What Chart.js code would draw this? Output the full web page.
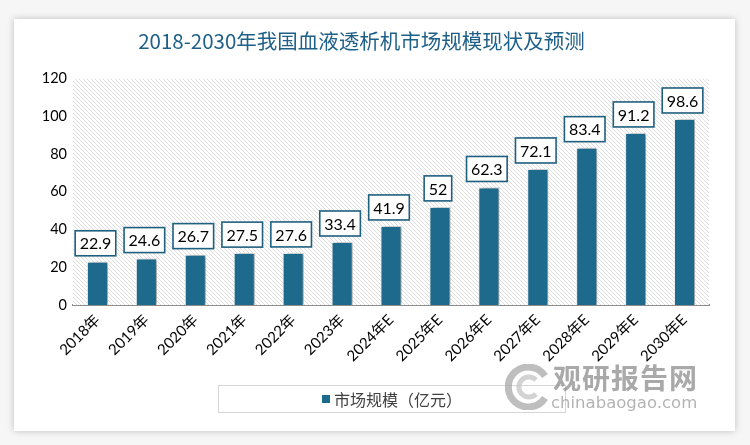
<!DOCTYPE html>
<html lang="zh-CN">

<head>
    <meta charset="UTF-8">
    <title>血液透析机市场规模</title>
    <style>
        body {
            margin: 0;
            width: 750px;
            height: 445px;
            background: #f6f6f6;
            position: relative;
            overflow: hidden;
            font-family: "Noto Sans CJK SC", sans-serif;
        }

        .card {
            position: absolute;
            left: 14px;
            top: 19px;
            width: 721px;
            height: 412px;
            background: #ffffff;
            box-shadow: 0 0 7px rgba(0, 0, 0, 0.22);
        }

        #grafico {
            position: absolute;
            left: 0;
            top: 0;
        }

        .legenda {
            position: absolute;
            left: 218px;
            top: 385px;
            width: 346px;
            height: 26px;
            border: 1px solid #d6d6d6;
            display: flex;
            align-items: center;
            justify-content: center;
            font-size: 16px;
            color: #404040;
        }

        .legenda .cor {
            width: 8px;
            height: 8px;
            background: #1d6a8c;
            margin-right: 4px;
        }

        .marca {
            position: absolute;
            left: 505px;
            top: 360px;
            width: 210px;
            height: 60px;
            opacity: 0.75;
        }

        .marca .logo {
            position: absolute;
            left: 0;
            top: 4px;
        }

        .marca .nome {
            position: absolute;
            left: 48px;
            top: 0;
            font-size: 28px;
            font-weight: bold;
            letter-spacing: 1px;
            color: #8c8c8c;
            line-height: 34px;
        }

        .marca .site {
            position: absolute;
            left: 46px;
            top: 33px;
            font-family: "DejaVu Sans", sans-serif;
            font-size: 16.5px;
            color: #9a9a9a;
            line-height: 20px;
        }
    </style>
</head>

<body>
    <div class="card"></div>
    <canvas id="grafico" width="750" height="445"></canvas>

    <div class="legenda"><span class="cor"></span>市场规模（亿元）</div>

    <div class="marca">
        <svg class="logo" width="46" height="46" viewBox="0 0 46 46">
            <path d="M40 12 A20 20 0 1 0 40 34" fill="none" stroke="#a8a8a8" stroke-width="7" />
            <path d="M31 16 A10 10 0 1 0 31 30" fill="none" stroke="#c4c4c4" stroke-width="5" />
        </svg>
        <div class="nome">观研报告网</div>
        <div class="site">chinabaogao.com</div>
    </div>

    <script src="https://cdn.jsdelivr.net/npm/chart.js"></script>
    <script>
        // dados do gráfico
        const anos = ['2018年', '2019年', '2020年', '2021年', '2022年', '2023年', '2024年E', '2025年E', '2026年E', '2027年E', '2028年E', '2029年E', '2030年E'];
        const mercado = [22.9, 24.6, 26.7, 27.5, 27.6, 33.4, 41.9, 52, 62.3, 72.1, 83.4, 91.2, 98.6];
        const ticksY = [0, 20, 40, 60, 80, 100, 120];

        const corBarra = '#1d6a8c';
        const fonteNum = "Lato, 'Noto Sans CJK SC', sans-serif";

        // fundo hachurado da área do gráfico
        function criarHachura() {
            let c = document.createElement('canvas');
            c.width = 4;
            c.height = 4;
            let g = c.getContext('2d');
            g.fillStyle = '#ffffff';
            g.fillRect(0, 0, 4, 4);
            g.strokeStyle = '#dedede';
            g.lineWidth = 1;
            g.beginPath();
            g.moveTo(-1, -1);
            g.lineTo(5, 5);
            g.moveTo(-1, 3);
            g.lineTo(1, 5);
            g.moveTo(3, -1);
            g.lineTo(5, 1);
            g.stroke();
            return g.createPattern(c, 'repeat');
        }

        const fundoHachura = {
            id: 'fundoHachura',
            beforeDatasetsDraw(chart) {
                const { ctx, chartArea } = chart;
                ctx.save();
                ctx.fillStyle = criarHachura();
                ctx.fillRect(chartArea.left, chartArea.top, chartArea.right - chartArea.left, chartArea.bottom - chartArea.top);
                ctx.restore();
            }
        };

        // sombra das barras
        const sombraBarras = {
            id: 'sombraBarras',
            beforeDatasetDraw(chart) {
                const ctx = chart.ctx;
                ctx.save();
                ctx.shadowColor = 'rgba(0,0,0,0.35)';
                ctx.shadowBlur = 4;
                ctx.shadowOffsetX = 3;
                ctx.shadowOffsetY = 0;
            },
            afterDatasetDraw(chart) {
                chart.ctx.restore();
            }
        };

        // rótulos com caixa acima das barras
        const rotulos = {
            id: 'rotulos',
            afterDatasetsDraw(chart) {
                const ctx = chart.ctx;
                const meta = chart.getDatasetMeta(0);
                ctx.save();
                ctx.font = '16px ' + fonteNum;
                ctx.textAlign = 'center';
                ctx.textBaseline = 'middle';
                meta.data.forEach(function (barra, i) {
                    let texto = String(mercado[i]);
                    let w = ctx.measureText(texto).width + 9;
                    let h = 25;
                    let x = barra.x - 2;
                    let baixo = barra.y - 6;
                    ctx.fillStyle = '#ffffff';
                    ctx.fillRect(x - w / 2, baixo - h, w, h);
                    ctx.strokeStyle = '#1f5f80';
                    ctx.lineWidth = 1.6;
                    ctx.strokeRect(x - w / 2, baixo - h, w, h);
                    ctx.fillStyle = '#000000';
                    ctx.fillText(texto, x, baixo - h / 2 + 1);
                });
                ctx.restore();
            }
        };

        let dados = {
            labels: anos,
            datasets: [{
                label: '市场规模（亿元）',
                data: mercado,
                backgroundColor: corBarra,
                borderColor: '#e8f0f4',
                borderWidth: 1,
                barPercentage: 0.43,
                categoryPercentage: 1
            }]
        };

        const config = {
            type: 'bar',
            data: dados,
            options: {
                responsive: false,
                animation: false,
                layout: {
                    padding: { left: 14, right: 41, top: 0, bottom: 60 }
                },
                plugins: {
                    legend: { display: false },
                    tooltip: { enabled: false },
                    title: {
                        display: true,
                        text: '2018-2030年我国血液透析机市场规模现状及预测',
                        color: '#1f6088',
                        font: { size: 20.5, family: "'Noto Sans CJK SC', sans-serif", weight: 'normal', lineHeight: 1.2 },
                        padding: { top: 29, bottom: 25 }
                    }
                },
                scales: {
                    x: {
                        grid: { display: false, drawTicks: false },
                        border: { display: true, color: '#8c8c8c', width: 2 },
                        ticks: {
                            color: '#000000',
                            font: { size: 15, family: fonteNum },
                            minRotation: 45,
                            maxRotation: 45,
                            padding: 6
                        },
                        afterFit(scale) {
                            scale.height = 80;
                        }
                    },
                    y: {
                        min: 0,
                        max: 120,
                        grid: { display: false, drawTicks: false },
                        border: { display: false },
                        afterBuildTicks(scale) {
                            scale.ticks = ticksY.map(v => ({ value: v }));
                        },
                        ticks: {
                            color: '#000000',
                            font: { size: 14.5, family: fonteNum },
                            padding: 6
                        },
                        afterFit(scale) {
                            scale.width = 59;
                        }
                    }
                }
            },
            plugins: [fundoHachura, sombraBarras, rotulos]
        };

        let meuGrafico = new Chart(
            document.getElementById('grafico'),
            config
        );
    </script>
</body>

</html>
